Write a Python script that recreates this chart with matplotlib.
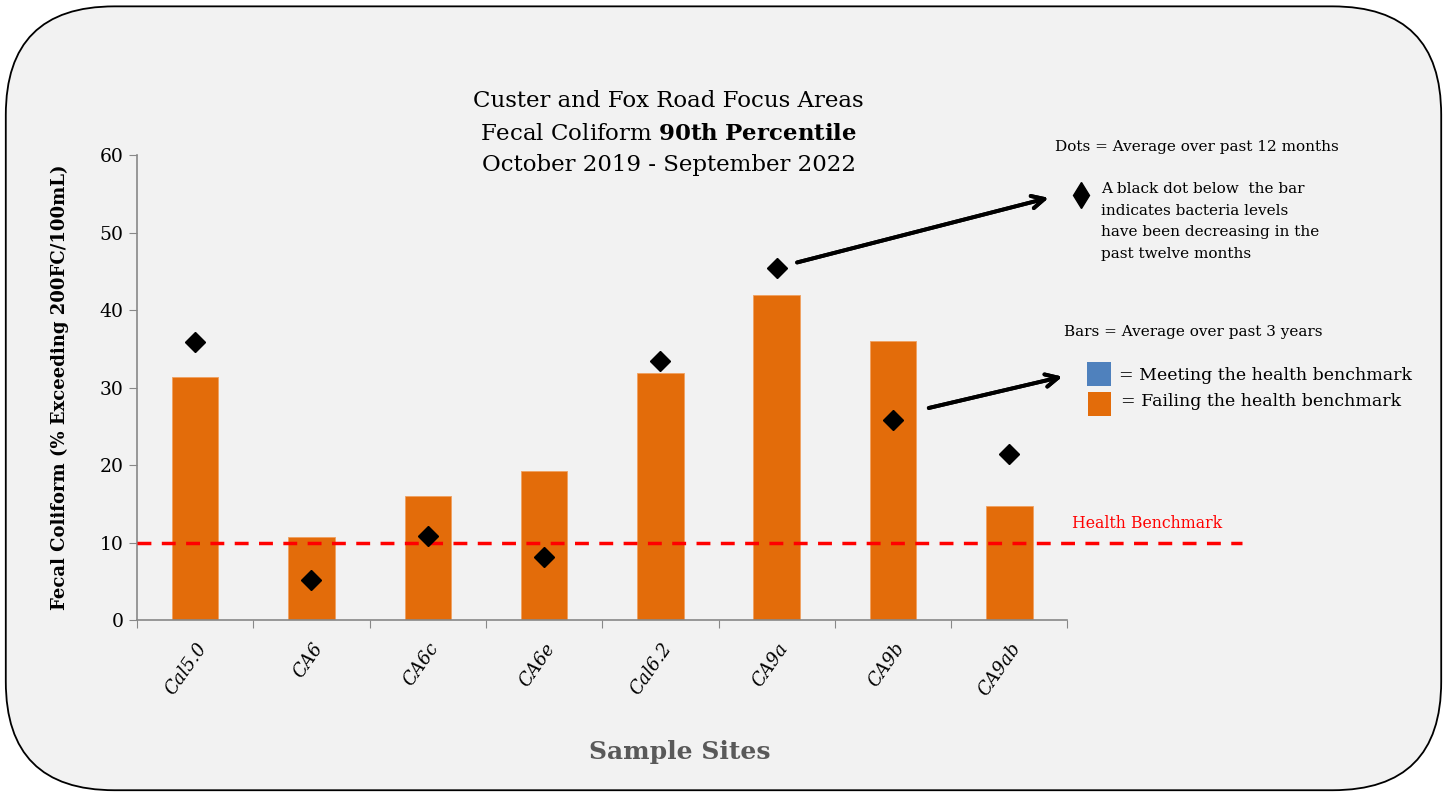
import matplotlib.pyplot as plt
from matplotlib.patches import FancyBboxPatch, Rectangle
from matplotlib.lines import Line2D

# data
sites = ['Cal5.0', 'CA6', 'CA6c', 'CA6e', 'Cal6.2', 'CA9a', 'CA9b', 'CA9ab']
bars_3yr = [31.4, 10.7, 16.0, 19.2, 31.9, 41.9, 36.0, 14.7]
dots_12mo = [35.9, 5.2, 10.8, 8.1, 33.4, 45.4, 25.8, 21.4]
benchmark = 10

plt.rcParams['font.family'] = ['DejaVu Serif']
plt.rcParams['mathtext.fontset'] = 'dejavuserif'
orange = '#e36c0a'
blue = '#4f81bd'

fig = plt.figure(figsize=(14.47, 7.95), dpi=100)
fig.patch.set_facecolor('white')

# rounded frame behind everything
frame = FancyBboxPatch((0.004, 0.006), 0.992, 0.986,
                       boxstyle='round,pad=0,rounding_size=0.075',
                       transform=fig.transFigure, facecolor='#f2f2f2',
                       edgecolor='black', linewidth=1.3, mutation_aspect=1447/795,
                       zorder=-5)
fig.patches.append(frame)

ax = fig.add_axes([0.0947, 0.220, 0.643, 0.585])
ax.set_facecolor('none')
x = range(len(sites))
ax.bar(x, bars_3yr, width=0.4, color=orange, edgecolor='#f0a060', linewidth=0.6, zorder=2)
ax.plot(x, dots_12mo, linestyle='none', marker='D', markersize=10, color='black', zorder=4)
ax.hlines(benchmark, -0.5, 9.0, colors='red', linestyles=(0, (4, 3)), linewidth=2.5,
          clip_on=False, zorder=3)

ax.set_xlim(-0.5, 7.5)
ax.set_ylim(0, 60)
ax.set_yticks(range(0, 61, 10))
ax.set_xticks([i + 0.5 for i in range(-1, 8)], minor=False)
ax.set_xticklabels([])
ax.set_xticks(list(x), minor=True)
ax.set_xticklabels(sites, minor=True, rotation=55, ha='right', va='top', fontsize=13,
                   style='italic', rotation_mode='anchor')
ax.tick_params(axis='x', which='minor', length=0, pad=14)
ax.tick_params(axis='x', which='major', length=6, color='#888888')
ax.tick_params(axis='y', length=6, color='#888888', labelsize=13.5)
for s in ['top', 'right']:
    ax.spines[s].set_visible(False)
for s in ['left', 'bottom']:
    ax.spines[s].set_color('#888888')
    ax.spines[s].set_linewidth(1.2)

ax.set_ylabel('Fecal Coliform (% Exceeding 200FC/100mL)', fontsize=13, fontweight='bold',
              labelpad=22)

fig.text(0.47, 0.054, 'Sample Sites', fontsize=18, fontweight='bold', color='#595959',
         ha='center', va='center')

# title
fig.text(0.462, 0.873, 'Custer and Fox Road Focus Areas', fontsize=16.5, ha='center', va='center')
fig.text(0.462, 0.832, 'Fecal Coliform $\\bf{90th\\ Percentile}$', fontsize=16.5, ha='center',
         va='center')
fig.text(0.462, 0.792, 'October 2019 - September 2022', fontsize=16.5, ha='center', va='center')

# side notes
fig.text(0.729, 0.815, 'Dots = Average over past 12 months', fontsize=11, va='center')
fig.add_artist(Line2D([0.747], [0.755], marker='d', markersize=13, color='black',
                      transform=fig.transFigure))
fig.text(0.761, 0.771, 'A black dot below  the bar\nindicates bacteria levels\n'
         'have been decreasing in the\npast twelve months', fontsize=11, va='top',
         linespacing=1.7)
fig.text(0.735, 0.582, 'Bars = Average over past 3 years', fontsize=11, va='center')
fig.patches.append(Rectangle((0.7515, 0.515), 0.0165, 0.030, facecolor=blue,
                             transform=fig.transFigure))
fig.patches.append(Rectangle((0.752, 0.477), 0.016, 0.030, facecolor=orange,
                             transform=fig.transFigure))
fig.text(0.773, 0.528, '= Meeting the health benchmark', fontsize=12.5, va='center')
fig.text(0.775, 0.495, '= Failing the health benchmark', fontsize=12.5, va='center')
fig.text(0.741, 0.341, 'Health Benchmark', fontsize=11.3, color='red', va='center')

# arrows
fig.add_artist(plt.annotate('', xy=(0.7265, 0.752), xytext=(0.549, 0.669),
                            xycoords='figure fraction',
                            arrowprops=dict(arrowstyle='->,head_length=0.9,head_width=0.45',
                                            color='black', lw=2.8)))
fig.add_artist(plt.annotate('', xy=(0.736, 0.527), xytext=(0.640, 0.486),
                            xycoords='figure fraction',
                            arrowprops=dict(arrowstyle='->,head_length=0.9,head_width=0.45',
                                            color='black', lw=2.8)))

fig.savefig('out.png', dpi=100)
